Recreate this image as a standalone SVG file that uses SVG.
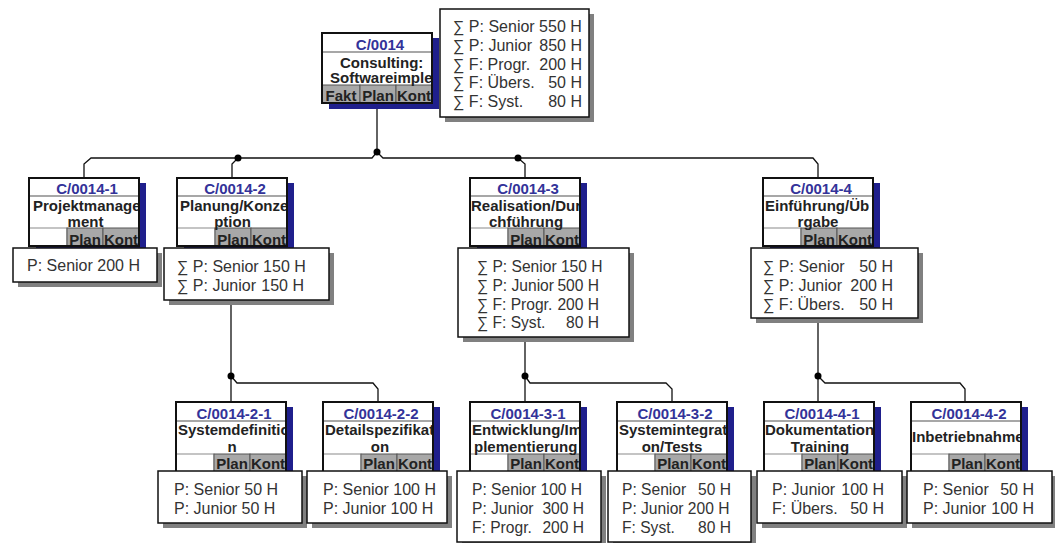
<svg xmlns="http://www.w3.org/2000/svg" width="1055" height="543" viewBox="0 0 1055 543">
<style>
.nsh{fill:#1f1f8c}
.nb{fill:#fff}
.no{fill:none;stroke:#111;stroke-width:2}
.dv{stroke:#8a8a8a;stroke-width:1.5}
.cg{fill:#a8a8a8;stroke:#555;stroke-width:1}
.cw{fill:#fff;stroke:#8a8a8a;stroke-width:1}
.tt{font:bold 15px "Liberation Sans",Arial,sans-serif;fill:#333399;text-anchor:middle}
.nm{font:bold 15px "Liberation Sans",Arial,sans-serif;fill:#222}
.mid{text-anchor:middle}
.ct{font:bold 15px "Liberation Sans",Arial,sans-serif;fill:#222;text-anchor:middle}
.ish{fill:#808080}
.ib{fill:#fff;stroke:#111;stroke-width:1.5}
.it{font-family:"Liberation Sans",Arial,sans-serif;font-size:16px;fill:#333}
.sm{font-size:15.6px}
.iv{text-anchor:end}
.cn{fill:none;stroke:#111;stroke-width:1.3}
.dot{fill:#000}
</style>
<defs>
<clipPath id="k0"><rect x="322" y="33" width="110" height="70"/></clipPath>
<clipPath id="k1"><rect x="29" y="178" width="110" height="68"/></clipPath>
<clipPath id="k2"><rect x="177" y="178" width="110" height="68"/></clipPath>
<clipPath id="k3"><rect x="470" y="178" width="110" height="68"/></clipPath>
<clipPath id="k4"><rect x="763" y="178" width="110" height="68"/></clipPath>
<clipPath id="k21"><rect x="176" y="402" width="110" height="70"/></clipPath>
<clipPath id="k22"><rect x="323" y="402" width="110" height="70"/></clipPath>
<clipPath id="k31"><rect x="470" y="402" width="110" height="70"/></clipPath>
<clipPath id="k32"><rect x="617" y="402" width="110" height="70"/></clipPath>
<clipPath id="k41"><rect x="764" y="402" width="110" height="70"/></clipPath>
<clipPath id="k42"><rect x="911" y="402" width="110" height="70"/></clipPath>
</defs>
<rect width="1055" height="543" fill="#fff"/>

<g id="connectors">
<path class="cn" d="M377,103 V152 L372,158 H91 L84,164 V178"/>
<path class="cn" d="M377,152 L383,158 H813 L818,164 V178"/>
<path class="cn" d="M238,158 L232,164 V178"/>
<path class="cn" d="M518,158 L525,164 V178"/>
<circle class="dot" cx="377" cy="152" r="3.5"/>
<circle class="dot" cx="238" cy="158" r="3.5"/>
<circle class="dot" cx="518" cy="158" r="3.5"/>
<path class="cn" d="M231,300 V402 M231,376 L237,383 H373 L378,389 V402"/>
<path class="cn" d="M525,337 V402 M525,376 L530,383 H666 L672,389 V402"/>
<path class="cn" d="M818,318 V402 M818,376 L825,383 H960 L965,389 V402"/>
<circle class="dot" cx="231" cy="376" r="3.5"/>
<circle class="dot" cx="525" cy="376" r="3.5"/>
<circle class="dot" cx="818" cy="376" r="3.5"/>
</g>

<g id="n-C0014">
<rect class="nsh" x="329" y="38" width="110" height="71"/>
<rect class="nb" x="322" y="33" width="110" height="70"/>
<rect class="cg" x="322" y="85" width="38" height="18"/>
<rect class="cg" x="360" y="85" width="36" height="18"/>
<rect class="cg" x="396" y="85" width="36" height="18"/>
<line class="dv" x1="322" y1="52" x2="432" y2="52"/>
<g clip-path="url(#k0)">
<text class="tt" x="380" y="50">C/0014</text>
<text class="nm" x="340" y="68">Consulting:</text>
<text class="nm" x="330" y="83">Softwareimple</text>
<text class="ct" x="341" y="101">Fakt</text>
<text class="ct" x="378" y="101">Plan</text>
<text class="ct" x="414" y="101">Kont</text>
</g>
<rect class="no" x="322" y="33" width="110" height="70"/>
<rect class="ish" x="445" y="14" width="149" height="108"/>
<rect class="ib" x="440" y="9" width="149" height="108"/>
<text class="it" x="453" y="32">∑ P: Senior 550 H</text>
<text class="it" x="453" y="50.75">∑ P: Junior</text><text class="it iv" x="582" y="50.75">850 H</text>
<text class="it" x="453" y="69.5">∑ F: Progr.</text><text class="it iv" x="582" y="69.5">200 H</text>
<text class="it" x="453" y="88.25">∑ F: Übers.</text><text class="it iv" x="582" y="88.25">50 H</text>
<text class="it" x="453" y="107">∑ F: Syst.</text><text class="it iv" x="582" y="107">80 H</text>
</g>

<g id="n-C0014-1">
<rect class="nsh" x="36" y="183" width="110" height="69"/>
<rect class="nb" x="29" y="178" width="110" height="68"/>
<rect class="cw" x="29" y="228" width="38" height="18"/>
<rect class="cg" x="67" y="228" width="36" height="18"/>
<rect class="cg" x="103" y="228" width="36" height="18"/>
<line class="dv" x1="29" y1="196" x2="139" y2="196"/>
<g clip-path="url(#k1)">
<text class="tt" x="87" y="194">C/0014-1</text>
<text class="nm" x="33" y="211">Projektmanage</text>
<text class="nm mid" x="85.5" y="227">ment</text>
<text class="ct" x="85" y="245">Plan</text>
<text class="ct" x="121" y="245">Kont</text>
</g>
<rect class="no" x="29" y="178" width="110" height="68"/>
<rect class="ish" x="18" y="253" width="144" height="34"/>
<rect class="ib" x="13" y="248" width="144" height="34"/>
<text class="it" x="27" y="271">P: Senior 200 H</text>
</g>

<g id="n-C0014-2">
<rect class="nsh" x="184" y="183" width="110" height="69"/>
<rect class="nb" x="177" y="178" width="110" height="68"/>
<rect class="cw" x="177" y="228" width="38" height="18"/>
<rect class="cg" x="215" y="228" width="36" height="18"/>
<rect class="cg" x="251" y="228" width="36" height="18"/>
<line class="dv" x1="177" y1="196" x2="287" y2="196"/>
<g clip-path="url(#k2)">
<text class="tt" x="235" y="194">C/0014-2</text>
<text class="nm" x="180" y="211">Planung/Konze</text>
<text class="nm mid" x="232.5" y="227">ption</text>
<text class="ct" x="233" y="245">Plan</text>
<text class="ct" x="269" y="245">Kont</text>
</g>
<rect class="no" x="177" y="178" width="110" height="68"/>
<rect class="ish" x="169" y="253" width="165" height="52"/>
<rect class="ib" x="164" y="248" width="165" height="52"/>
<text class="it" x="177" y="272">∑ P: Senior 150 H</text>
<text class="it" x="177" y="290.75">∑ P: Junior</text><text class="it iv" x="304" y="290.75">150 H</text>
</g>

<g id="n-C0014-3">
<rect class="nsh" x="477" y="183" width="110" height="69"/>
<rect class="nb" x="470" y="178" width="110" height="68"/>
<rect class="cw" x="470" y="228" width="38" height="18"/>
<rect class="cg" x="508" y="228" width="36" height="18"/>
<rect class="cg" x="544" y="228" width="36" height="18"/>
<line class="dv" x1="470" y1="196" x2="580" y2="196"/>
<g clip-path="url(#k3)">
<text class="tt" x="528" y="194">C/0014-3</text>
<text class="nm" x="471" y="211">Realisation/Dur</text>
<text class="nm mid" x="526" y="227">chführung</text>
<text class="ct" x="526" y="245">Plan</text>
<text class="ct" x="562" y="245">Kont</text>
</g>
<rect class="no" x="470" y="178" width="110" height="68"/>
<rect class="ish" x="463" y="253" width="171" height="89"/>
<rect class="ib" x="458" y="248" width="171" height="89"/>
<text class="it sm" x="477" y="272">∑ P: Senior 150 H</text>
<text class="it sm" x="477" y="290.75">∑ P: Junior</text><text class="it sm iv" x="599" y="290.75">500 H</text>
<text class="it sm" x="477" y="309.5">∑ F: Progr.</text><text class="it sm iv" x="599" y="309.5">200 H</text>
<text class="it sm" x="477" y="328.25">∑ F: Syst.</text><text class="it sm iv" x="599" y="328.25">80 H</text>
</g>

<g id="n-C0014-4">
<rect class="nsh" x="770" y="183" width="110" height="69"/>
<rect class="nb" x="763" y="178" width="110" height="68"/>
<rect class="cw" x="763" y="228" width="38" height="18"/>
<rect class="cg" x="801" y="228" width="36" height="18"/>
<rect class="cg" x="837" y="228" width="36" height="18"/>
<line class="dv" x1="763" y1="196" x2="873" y2="196"/>
<g clip-path="url(#k4)">
<text class="tt" x="821" y="194">C/0014-4</text>
<text class="nm" x="765" y="211">Einführung/Üb</text>
<text class="nm mid" x="818" y="227">rgabe</text>
<text class="ct" x="819" y="245">Plan</text>
<text class="ct" x="855" y="245">Kont</text>
</g>
<rect class="no" x="763" y="178" width="110" height="68"/>
<rect class="ish" x="756" y="253" width="167" height="70"/>
<rect class="ib" x="751" y="248" width="167" height="70"/>
<text class="it" x="763" y="272">∑ P: Senior</text><text class="it iv" x="893" y="272">50 H</text>
<text class="it" x="763" y="290.75">∑ P: Junior</text><text class="it iv" x="893" y="290.75">200 H</text>
<text class="it" x="763" y="309.5">∑ F: Übers.</text><text class="it iv" x="893" y="309.5">50 H</text>
</g>

<g id="n-C0014-2-1">
<rect class="nsh" x="183" y="407" width="110" height="71"/>
<rect class="nb" x="176" y="402" width="110" height="70"/>
<rect class="cw" x="176" y="454" width="38" height="18"/>
<rect class="cg" x="214" y="454" width="36" height="18"/>
<rect class="cg" x="250" y="454" width="36" height="18"/>
<line class="dv" x1="176" y1="421" x2="286" y2="421"/>
<g clip-path="url(#k21)">
<text class="tt" x="234" y="419">C/0014-2-1</text>
<text class="nm" x="178" y="435">Systemdefinitio</text>
<text class="nm mid" x="232" y="452">n</text>
<text class="ct" x="232" y="469">Plan</text>
<text class="ct" x="268" y="469">Kont</text>
</g>
<rect class="no" x="176" y="402" width="110" height="70"/>
<rect class="ish" x="163" y="476" width="144" height="52"/>
<rect class="ib" x="158" y="471" width="144" height="52"/>
<text class="it" x="174" y="495">P: Senior 50 H</text>
<text class="it" x="174" y="513.75">P: Junior 50 H</text>
</g>

<g id="n-C0014-2-2">
<rect class="nsh" x="330" y="407" width="110" height="71"/>
<rect class="nb" x="323" y="402" width="110" height="70"/>
<rect class="cw" x="323" y="454" width="38" height="18"/>
<rect class="cg" x="361" y="454" width="36" height="18"/>
<rect class="cg" x="397" y="454" width="36" height="18"/>
<line class="dv" x1="323" y1="421" x2="433" y2="421"/>
<g clip-path="url(#k22)">
<text class="tt" x="381" y="419">C/0014-2-2</text>
<text class="nm" x="325" y="435">Detailspezifikat</text>
<text class="nm mid" x="380" y="452">on</text>
<text class="ct" x="379" y="469">Plan</text>
<text class="ct" x="415" y="469">Kont</text>
</g>
<rect class="no" x="323" y="402" width="110" height="70"/>
<rect class="ish" x="312" y="476" width="140" height="52"/>
<rect class="ib" x="307" y="471" width="140" height="52"/>
<text class="it" x="323" y="495">P: Senior 100 H</text>
<text class="it" x="323" y="513.75">P: Junior 100 H</text>
</g>

<g id="n-C0014-3-1">
<rect class="nsh" x="477" y="407" width="110" height="71"/>
<rect class="nb" x="470" y="402" width="110" height="70"/>
<rect class="cw" x="470" y="454" width="38" height="18"/>
<rect class="cg" x="508" y="454" width="36" height="18"/>
<rect class="cg" x="544" y="454" width="36" height="18"/>
<line class="dv" x1="470" y1="421" x2="580" y2="421"/>
<g clip-path="url(#k31)">
<text class="tt" x="528" y="419">C/0014-3-1</text>
<text class="nm" x="472" y="435">Entwicklung/Im</text>
<text class="nm" x="474" y="452">plementierung</text>
<text class="ct" x="526" y="469">Plan</text>
<text class="ct" x="562" y="469">Kont</text>
</g>
<rect class="no" x="470" y="402" width="110" height="70"/>
<rect class="ish" x="462" y="476" width="144" height="71"/>
<rect class="ib" x="457" y="471" width="144" height="71"/>
<text class="it sm" x="472" y="495">P: Senior 100 H</text>
<text class="it sm" x="472" y="513.75">P: Junior</text><text class="it sm iv" x="584" y="513.75">300 H</text>
<text class="it sm" x="472" y="532.5">F: Progr.</text><text class="it sm iv" x="584" y="532.5">200 H</text>
</g>

<g id="n-C0014-3-2">
<rect class="nsh" x="624" y="407" width="110" height="71"/>
<rect class="nb" x="617" y="402" width="110" height="70"/>
<rect class="cw" x="617" y="454" width="38" height="18"/>
<rect class="cg" x="655" y="454" width="36" height="18"/>
<rect class="cg" x="691" y="454" width="36" height="18"/>
<line class="dv" x1="617" y1="421" x2="727" y2="421"/>
<g clip-path="url(#k32)">
<text class="tt" x="675" y="419">C/0014-3-2</text>
<text class="nm" x="619" y="435">Systemintegrati</text>
<text class="nm mid" x="672" y="452">on/Tests</text>
<text class="ct" x="673" y="469">Plan</text>
<text class="ct" x="709" y="469">Kont</text>
</g>
<rect class="no" x="617" y="402" width="110" height="70"/>
<rect class="ish" x="613" y="476" width="143" height="71"/>
<rect class="ib" x="608" y="471" width="143" height="71"/>
<text class="it sm" x="622" y="495">P: Senior</text><text class="it sm iv" x="731" y="495">50 H</text>
<text class="it sm" x="622" y="513.75">P: Junior 200 H</text>
<text class="it sm" x="622" y="532.5">F: Syst.</text><text class="it sm iv" x="731" y="532.5">80 H</text>
</g>

<g id="n-C0014-4-1">
<rect class="nsh" x="771" y="407" width="110" height="71"/>
<rect class="nb" x="764" y="402" width="110" height="70"/>
<rect class="cw" x="764" y="454" width="38" height="18"/>
<rect class="cg" x="802" y="454" width="36" height="18"/>
<rect class="cg" x="838" y="454" width="36" height="18"/>
<line class="dv" x1="764" y1="421" x2="874" y2="421"/>
<g clip-path="url(#k41)">
<text class="tt" x="822" y="419">C/0014-4-1</text>
<text class="nm" x="765" y="435">Dokumentation</text>
<text class="nm mid" x="820" y="452">Training</text>
<text class="ct" x="820" y="469">Plan</text>
<text class="ct" x="856" y="469">Kont</text>
</g>
<rect class="no" x="764" y="402" width="110" height="70"/>
<rect class="ish" x="762" y="476" width="145" height="52"/>
<rect class="ib" x="757" y="471" width="145" height="52"/>
<text class="it" x="772" y="495">P: Junior</text><text class="it iv" x="884" y="495">100 H</text>
<text class="it" x="772" y="513.75">F: Übers.</text><text class="it iv" x="884" y="513.75">50 H</text>
</g>

<g id="n-C0014-4-2">
<rect class="nsh" x="918" y="407" width="110" height="71"/>
<rect class="nb" x="911" y="402" width="110" height="70"/>
<rect class="cw" x="911" y="454" width="38" height="18"/>
<rect class="cg" x="949" y="454" width="36" height="18"/>
<rect class="cg" x="985" y="454" width="36" height="18"/>
<line class="dv" x1="911" y1="421" x2="1021" y2="421"/>
<g clip-path="url(#k42)">
<text class="tt" x="969" y="419">C/0014-4-2</text>
<text class="nm" x="912" y="442">Inbetriebnahme</text>
<text class="ct" x="967" y="469">Plan</text>
<text class="ct" x="1003" y="469">Kont</text>
</g>
<rect class="no" x="911" y="402" width="110" height="70"/>
<rect class="ish" x="912" y="476" width="143" height="52"/>
<rect class="ib" x="907" y="471" width="145" height="52"/>
<text class="it" x="923" y="495">P: Senior</text><text class="it iv" x="1034" y="495">50 H</text>
<text class="it" x="923" y="513.75">P: Junior</text><text class="it iv" x="1034" y="513.75">100 H</text>
</g>
</svg>
